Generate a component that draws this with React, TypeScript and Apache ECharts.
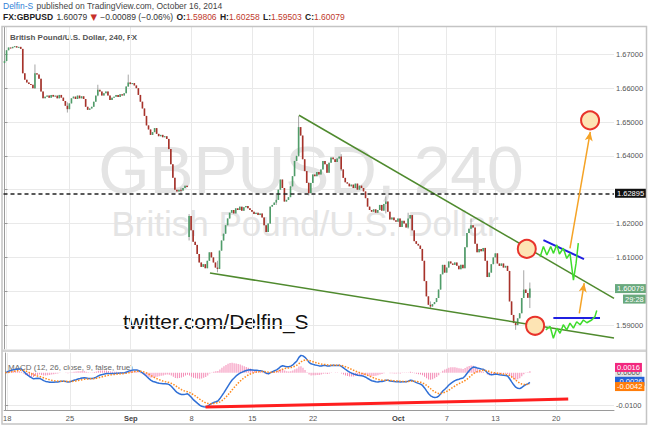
import React, { useEffect, useRef } from 'react';
import * as echarts from 'echarts';

// ---------- data ----------
// 240-minute closes, GBP/USD, Aug 18 -> Oct 16 2014 (one value per bar)
const closes = [
  1.6680, 1.6712, 1.6720, 1.6718, 1.6722, 1.6724, 1.6720, 1.6722, 1.6716, 1.6644,
  1.6625, 1.6617, 1.6612, 1.6610, 1.6600, 1.6644, 1.6640, 1.6628, 1.6590, 1.6570,
  1.6575, 1.6578, 1.6572, 1.6580, 1.6575, 1.6578, 1.6570, 1.6580, 1.6572, 1.6562,
  1.6548, 1.6538, 1.6555, 1.6570, 1.6575, 1.6568, 1.6578, 1.6570, 1.6576, 1.6568,
  1.6545, 1.6536, 1.6540, 1.6545, 1.6560, 1.6578, 1.6595, 1.6590, 1.6578, 1.6585,
  1.6590, 1.6578, 1.6565, 1.6572, 1.6575, 1.6580, 1.6574, 1.6582, 1.6578, 1.6585,
  1.6605, 1.6617, 1.6612, 1.6615, 1.6608, 1.6600, 1.6580, 1.6560, 1.6540, 1.6518,
  1.6490, 1.6478, 1.6462, 1.6470, 1.6482, 1.6465, 1.6458, 1.6462, 1.6455, 1.6458,
  1.6450, 1.6420, 1.6375, 1.6335, 1.6300, 1.6295, 1.6300, 1.6298, 1.6305, 1.6312,
  1.6308, 1.6222, 1.6180, 1.6146, 1.6137, 1.6110, 1.6085, 1.6072, 1.6080, 1.6068,
  1.6090, 1.6115, 1.6100, 1.6085, 1.6070, 1.6066, 1.6120, 1.6150, 1.6170, 1.6195,
  1.6215, 1.6232, 1.6240, 1.6230, 1.6245, 1.6240, 1.6250, 1.6238, 1.6248, 1.6252,
  1.6245, 1.6240, 1.6235, 1.6228, 1.6232, 1.6225, 1.6230, 1.6218, 1.6195, 1.6175,
  1.6200, 1.6250, 1.6255, 1.6262, 1.6270, 1.6300, 1.6330, 1.6305, 1.6265, 1.6270,
  1.6278, 1.6310, 1.6340, 1.6385, 1.6400, 1.6485, 1.6460, 1.6390, 1.6355, 1.6320,
  1.6290, 1.6320, 1.6345, 1.6340, 1.6352, 1.6345, 1.6360, 1.6385, 1.6375, 1.6350,
  1.6380, 1.6395, 1.6390, 1.6382, 1.6392, 1.6398, 1.6360, 1.6335, 1.6322, 1.6318,
  1.6310, 1.6315, 1.6305, 1.6318, 1.6300, 1.6312, 1.6305, 1.6295, 1.6275, 1.6250,
  1.6240, 1.6235, 1.6242, 1.6232, 1.6240, 1.6255, 1.6238, 1.6258, 1.6265, 1.6235,
  1.6212, 1.6218, 1.6210, 1.6205, 1.6215, 1.6190, 1.6208, 1.6200, 1.6188, 1.6215,
  1.6225, 1.6180, 1.6148, 1.6140, 1.6135, 1.6125, 1.6090, 1.6030, 1.5985, 1.5960,
  1.5955, 1.5962, 1.5968, 1.5980, 1.6005, 1.6050, 1.6078, 1.6055, 1.6070, 1.6088,
  1.6082, 1.6078, 1.6085, 1.6075, 1.6065, 1.6078, 1.6068, 1.6130, 1.6172, 1.6185,
  1.6195, 1.6188, 1.6140, 1.6115, 1.6125, 1.6118, 1.6128, 1.6090, 1.6042, 1.6055,
  1.6080, 1.6100, 1.6112, 1.6082, 1.6075, 1.6082, 1.6070, 1.6075, 1.6060, 1.5970,
  1.5930, 1.5906, 1.5900, 1.5920, 1.5935, 1.5980, 1.6005, 1.5995, 1.59806, 1.60079,
];
const firstOpen = 1.6674;
const gapIndex = 91;
const gapOpen = 1.6160;
// notable wicks [low, high]
const wicks: Record<number, [number, number]> = {
  0: [1.6672, 1.6684], 15: [1.6598, 1.6670], 31: [1.6528, 1.6558], 46: [1.6576, 1.6610],
  61: [1.6604, 1.6640], 87: [1.6285, 1.6306], 91: [1.6150, 1.6228], 105: [1.6056, 1.6090],
  134: [1.6255, 1.6290], 145: [1.6398, 1.6518], 150: [1.6283, 1.6322], 166: [1.6355, 1.6405],
  188: [1.6230, 1.6280], 199: [1.6185, 1.6232], 210: [1.5948, 1.5970], 230: [1.6185, 1.6215],
  252: [1.5886, 1.5910], 256: [1.5990, 1.6062], 259: [1.59503, 1.60258],
};

const slotCount = 301; // bars + empty space to the right
const tickIdx = [1, 32, 62, 92, 122, 152, 194, 218, 242, 272];
const tickText = ['18', '25', 'Sep', '8', '15', '22', 'Oct', '7', '13', '20'];
const priceTicks = [1.59, 1.6, 1.61, 1.62, 1.63, 1.64, 1.65, 1.66, 1.67];
// 1.60000 and 1.63000 are covered by the price boxes in the reference
const priceLabels = [1.59, 1.61, 1.62, 1.64, 1.65, 1.66, 1.67];
const refPrice = 1.62895;
const lastPrice = 1.60079;
const countdown = '29:28';
const macdLabels = { hist: 0.0016, zero: 0, macd: -0.0026, signal: -0.0042 };

// drawings [barIndex, price]
const upperWedge = [[145.2, 1.652], [300.5, 1.5979]];
const lowerWedge = [[101.3, 1.6054], [300.5, 1.5862]];
const blueUpper = [[265.7, 1.6151], [285.7, 1.6095]];
const blueLower = [[270.6, 1.5922], [293.6, 1.5922]];
const arrowLow = [[283.4, 1.5935], [285.8, 1.6024]];
const arrowHigh = [[278.8, 1.6127], [288.8, 1.6471]];
const circles = [[257.5, 1.6125], [261.6, 1.5898], [288.7, 1.6505]];
const zigzagUpper = [
  [264.1, 1.6102], [265.7, 1.6132], [267.4, 1.6107], [269.3, 1.6132], [270.6, 1.6112],
  [272.3, 1.6137], [273.6, 1.611], [275.5, 1.6127], [277.2, 1.6097], [278.8, 1.6112],
  [280.5, 1.6033], [281.8, 1.6083], [282.9, 1.6142],
];
const zigzagLower = [
  [266.9, 1.5886], [269.0, 1.5896], [270.6, 1.5861], [272.3, 1.5891], [273.9, 1.5876],
  [275.5, 1.5901], [277.2, 1.5886], [278.8, 1.5906], [280.5, 1.5891], [282.1, 1.591],
  [283.8, 1.5901], [285.4, 1.5915], [287.1, 1.5907], [289.5, 1.5915], [291.1, 1.5925],
  [292.0, 1.5943],
];
const macdTrend = [[98.9, -0.0104], [277.9, -0.008]];

// ---------- styling ----------
const FONT = 'Liberation Sans, Arial, sans-serif';
const UP = '#4f9d69';
const DOWN = '#a8322a';
const HIDDEN_LINE = { width: 0, color: 'rgba(0,0,0,0)' };

function ema(src: number[], n: number) {
  const k = 2 / (n + 1);
  const out: number[] = [];
  let prev = src[0];
  src.forEach((v, i) => {
    prev = i === 0 ? v : v * k + prev * (1 - k);
    out.push(prev);
  });
  return out;
}

function buildOption() {
  const candles = closes.map((c, i) => {
    const o = i === 0 ? firstOpen : i === gapIndex ? gapOpen : closes[i - 1];
    const w = wicks[i];
    return [i, o, c, w ? w[0] : Math.min(o, c), w ? w[1] : Math.max(o, c)];
  });
  // MACD(12, 26, close, 9) derived from the closes above
  const e12 = ema(closes, 12);
  const e26 = ema(closes, 26);
  const macd = e12.map((v, i) => v - e26[i]);
  const signal = ema(macd, 9);
  const macdData = macd.map((v, i) => [i, v]);
  const signalData = signal.map((v, i) => [i, v]);
  const histData = macd.map((v, i) => [i, v - signal[i]]);

  const seg = (pts: number[][], color: string, width: number, arrow = false) => [
    { coord: pts[0], symbol: 'none' },
    {
      coord: pts[1],
      symbol: arrow ? 'arrow' : 'none',
      symbolSize: arrow ? [6, 9] : 0,
      lineStyle: { color, width, type: 'solid' },
    },
  ];

  const boxLabel = (text: string, bg: string, extra: any = {}) => ({
    show: true,
    position: 'end',
    distance: 1,
    formatter: text,
    color: '#fff',
    backgroundColor: bg,
    padding: [1, 2, 0, 2],
    fontSize: 7.5,
    fontFamily: FONT,
    ...extra,
  });

  const xAxisCommon = {
    type: 'value',
    min: -0.5,
    max: slotCount - 0.5,
    axisTick: { show: false, customValues: tickIdx },
    splitLine: { show: true, lineStyle: { color: '#e9e9e9', width: 1 } },
  };

  return {
    animation: false,
    backgroundColor: '#fff',
    textStyle: { fontFamily: FONT },
    grid: [
      { left: 3.5, right: 36, top: 27, height: 322 },
      { left: 3.5, right: 36, top: 353, height: 57 },
    ],
    xAxis: [
      {
        ...xAxisCommon,
        gridIndex: 0,
        axisLine: { show: false, onZero: false },
        axisLabel: { show: false, customValues: tickIdx },
      },
      {
        ...xAxisCommon,
        gridIndex: 1,
        axisLine: { show: true, onZero: false, lineStyle: { color: '#9a9a9a' } },
        axisLabel: {
          show: true,
          customValues: tickIdx,
          margin: 4,
          fontSize: 7.5,
          color: '#555',
          fontFamily: FONT,
          formatter: (v: number) => {
            const k = tickIdx.indexOf(Math.round(v));
            const t = k >= 0 ? tickText[k] : '';
            return /[A-Za-z]/.test(t) ? `{b|${t}}` : t;
          },
          rich: { b: { fontWeight: 'bold', fontSize: 7.5, color: '#444', fontFamily: FONT } },
        },
      },
    ],
    yAxis: [
      {
        type: 'value',
        gridIndex: 0,
        position: 'right',
        min: 1.58294,
        max: 1.67807,
        axisLine: { show: true, lineStyle: { color: '#9a9a9a' } },
        axisTick: { show: true, length: 3, customValues: priceTicks, lineStyle: { color: '#9a9a9a' } },
        axisLabel: {
          show: true,
          customValues: priceLabels,
          margin: 2,
          fontSize: 7.5,
          color: '#555',
          fontFamily: FONT,
          formatter: (v: number) => v.toFixed(5),
        },
        splitLine: { show: true, lineStyle: { color: '#e9e9e9' } },
      },
      {
        type: 'value',
        gridIndex: 1,
        position: 'right',
        min: -0.0113,
        max: 0.00597,
        axisLine: { show: true, lineStyle: { color: '#9a9a9a' } },
        axisTick: { show: true, length: 3, customValues: [-0.01], lineStyle: { color: '#9a9a9a' } },
        axisLabel: {
          show: true,
          customValues: [-0.01],
          margin: 2,
          fontSize: 7.5,
          color: '#555',
          fontFamily: FONT,
          formatter: (v: number) => v.toFixed(4),
        },
        splitLine: { show: true, lineStyle: { color: '#e9e9e9' } },
      },
    ],
    graphic: [
      // watermark
      {
        type: 'text', z: 1, x: 311, y: 170,
        style: { text: 'GBPUSD, 240', fill: '#e4e4e4', fontSize: 66, fontFamily: FONT, align: 'center', verticalAlign: 'middle' },
      },
      {
        type: 'text', z: 1, x: 305, y: 223,
        style: { text: 'British Pound/U.S. Dollar', fill: '#e4e4e4', fontSize: 35, fontFamily: FONT, align: 'center', verticalAlign: 'middle' },
      },
      // header
      {
        type: 'text', x: 3, y: 6,
        style: {
          text: '{a|Delfin-S} {b|published on TradingView.com, October 16, 2014}',
          verticalAlign: 'middle',
          rich: {
            a: { fill: '#2f7fd6', fontSize: 8.5, fontFamily: FONT },
            b: { fill: '#444', fontSize: 8.5, fontFamily: FONT },
          },
        },
      },
      {
        type: 'text', x: 3, y: 17,
        style: {
          text: '{k|FX:GBPUSD} {n|1.60079} {r|▼} {n|−0.00089 (−0.06%)} {k|O:}{v|1.59806} {k|H:}{v|1.60258} {k|L:}{v|1.59503} {k|C:}{v|1.60079}',
          verticalAlign: 'middle',
          rich: {
            k: { fill: '#222', fontSize: 8.5, fontWeight: 'bold', fontFamily: FONT },
            n: { fill: '#333', fontSize: 8.5, fontFamily: FONT },
            r: { fill: '#c8302a', fontSize: 8.5, fontFamily: 'DejaVu Sans' },
            v: { fill: '#c0392b', fontSize: 8.5, fontFamily: FONT },
          },
        },
      },
      // pane legends
      {
        type: 'text', x: 10, y: 37,
        style: { text: 'British Pound/U.S. Dollar, 240, FX', fill: '#555', fontSize: 8, fontWeight: 'bold', fontFamily: FONT, verticalAlign: 'middle' },
      },
      {
        type: 'text', x: 8, y: 367,
        style: { text: 'MACD (12, 26, close, 9, false, true)', fill: '#666', fontSize: 8, fontFamily: FONT, verticalAlign: 'middle' },
      },
      {
        type: 'text', x: 123, y: 321,
        style: { text: 'twitter.com/Delfin_S', fill: '#111', fontSize: 21, fontFamily: FONT, verticalAlign: 'middle' },
      },
      // frame and pane separator
      {
        type: 'rect', z: 20,
        shape: { x: 2.5, y: 349.5, width: 644, height: 2.5 },
        style: { fill: '#d4d4d4' },
      },
      {
        type: 'rect', z: 20,
        shape: { x: 2, y: 26.5, width: 644.5, height: 397.5 },
        style: { fill: 'none', stroke: '#c4c4c4', lineWidth: 1.5 },
      },
    ],
    series: [
      {
        type: 'custom',
        name: 'GBPUSD',
        xAxisIndex: 0,
        yAxisIndex: 0,
        z: 3,
        data: candles,
        encode: { x: 0, y: [1, 2, 3, 4] },
        renderItem: (_p: any, api: any) => {
          const x = api.value(0);
          const o = api.value(1);
          const c = api.value(2);
          const l = api.value(3);
          const h = api.value(4);
          const po = api.coord([x, o]);
          const pc = api.coord([x, c]);
          const pl = api.coord([x, l]);
          const ph = api.coord([x, h]);
          const w = Math.max(api.size([1, 0])[0] * 0.8, 1);
          const up = c >= o;
          const top = Math.min(po[1], pc[1]);
          const height = Math.max(Math.abs(po[1] - pc[1]), 1);
          return {
            type: 'group',
            children: [
              { type: 'line', shape: { x1: ph[0], y1: ph[1], x2: pl[0], y2: pl[1] }, style: { stroke: '#8f8f8f', lineWidth: 0.8 } },
              { type: 'rect', shape: { x: po[0] - w / 2, y: top, width: w, height }, style: { fill: up ? UP : DOWN } },
            ],
          };
        },
        markLine: {
          silent: true,
          precision: 6,
          symbol: ['none', 'none'],
          label: { show: false },
          data: [
            {
              yAxis: refPrice,
              lineStyle: { color: '#222', width: 1.5, type: [4, 3] },
              label: boxLabel('1.62895', '#111'),
            },
            {
              yAxis: lastPrice,
              lineStyle: HIDDEN_LINE,
              label: boxLabel('1.60079', '#6aa97d'),
            },
            {
              yAxis: lastPrice,
              lineStyle: HIDDEN_LINE,
              label: boxLabel(countdown, '#6aa97d', { offset: [8, 10.5] }),
            },
          ],
        },
      },
      {
        type: 'line',
        name: 'wedge',
        xAxisIndex: 0,
        yAxisIndex: 0,
        z: 4,
        data: upperWedge,
        showSymbol: false,
        lineStyle: { color: '#4f8a2e', width: 1.5 },
      },
      {
        type: 'line',
        name: 'wedge-low',
        xAxisIndex: 0,
        yAxisIndex: 0,
        z: 4,
        data: lowerWedge,
        showSymbol: false,
        lineStyle: { color: '#4f8a2e', width: 1.5 },
      },
      {
        type: 'line',
        name: 'zigzag-up',
        xAxisIndex: 0,
        yAxisIndex: 0,
        z: 5,
        data: zigzagUpper,
        showSymbol: false,
        lineStyle: { color: '#3fdc2c', width: 1.5 },
      },
      {
        type: 'line',
        name: 'zigzag-low',
        xAxisIndex: 0,
        yAxisIndex: 0,
        z: 5,
        data: zigzagLower,
        showSymbol: false,
        lineStyle: { color: '#3fdc2c', width: 1.5 },
      },
      {
        type: 'scatter',
        name: 'targets',
        xAxisIndex: 0,
        yAxisIndex: 0,
        z: 6,
        data: circles,
        symbolSize: 18,
        itemStyle: { color: '#fde4b4', borderColor: '#e8332b', borderWidth: 2, opacity: 1 },
        markLine: {
          silent: true,
          precision: 6,
          symbol: ['none', 'none'],
          label: { show: false },
          data: [
            seg(blueUpper, '#2020e0', 2),
            seg(blueLower, '#2020e0', 2),
            seg(arrowLow, '#f5a326', 1.5, true),
            seg(arrowHigh, '#f5a326', 1.5, true),
          ],
        },
      },
      // MACD pane
      {
        type: 'bar',
        name: 'Histogram',
        xAxisIndex: 1,
        yAxisIndex: 1,
        data: histData,
        barWidth: 1,
        itemStyle: { color: '#f48ab5' },
      },
      {
        type: 'line',
        name: 'MACD',
        xAxisIndex: 1,
        yAxisIndex: 1,
        data: macdData,
        showSymbol: false,
        lineStyle: { color: '#2f6fd6', width: 1.5 },
      },
      {
        type: 'line',
        name: 'Signal',
        xAxisIndex: 1,
        yAxisIndex: 1,
        data: signalData,
        showSymbol: false,
        lineStyle: { color: '#ff8a1c', width: 1.5, type: 'dotted' },
      },
      {
        type: 'line',
        name: 'macd-trend',
        xAxisIndex: 1,
        yAxisIndex: 1,
        z: 4,
        data: macdTrend,
        showSymbol: false,
        lineStyle: { color: '#ff1f1f', width: 3 },
        markLine: {
          silent: true,
          precision: 6,
          symbol: ['none', 'none'],
          label: { show: false },
          data: [
            { yAxis: macdLabels.zero, lineStyle: HIDDEN_LINE, label: boxLabel('0.0000', '#e4e4e4', { color: '#555' }) },
            { yAxis: macdLabels.hist, lineStyle: HIDDEN_LINE, label: boxLabel('0.0016', '#f2277e') },
            { yAxis: macdLabels.macd, lineStyle: HIDDEN_LINE, label: boxLabel('-0.0026', '#2462d6') },
            { yAxis: macdLabels.signal, lineStyle: HIDDEN_LINE, label: boxLabel('-0.0042', '#ff7d0a') },
          ],
        },
      },
    ],
  };
}

export default function App() {
  const ref = useRef<HTMLDivElement>(null);
  useEffect(() => {
    if (!ref.current) return;
    const chart = echarts.init(ref.current, null, { renderer: 'svg' });
    chart.setOption(buildOption() as any);
    return () => chart.dispose();
  }, []);
  return (
    <div
      ref={ref}
      style={{ width: 650, height: 428, position: 'absolute', left: 0, top: 0, background: '#fff' }}
    />
  );
}
